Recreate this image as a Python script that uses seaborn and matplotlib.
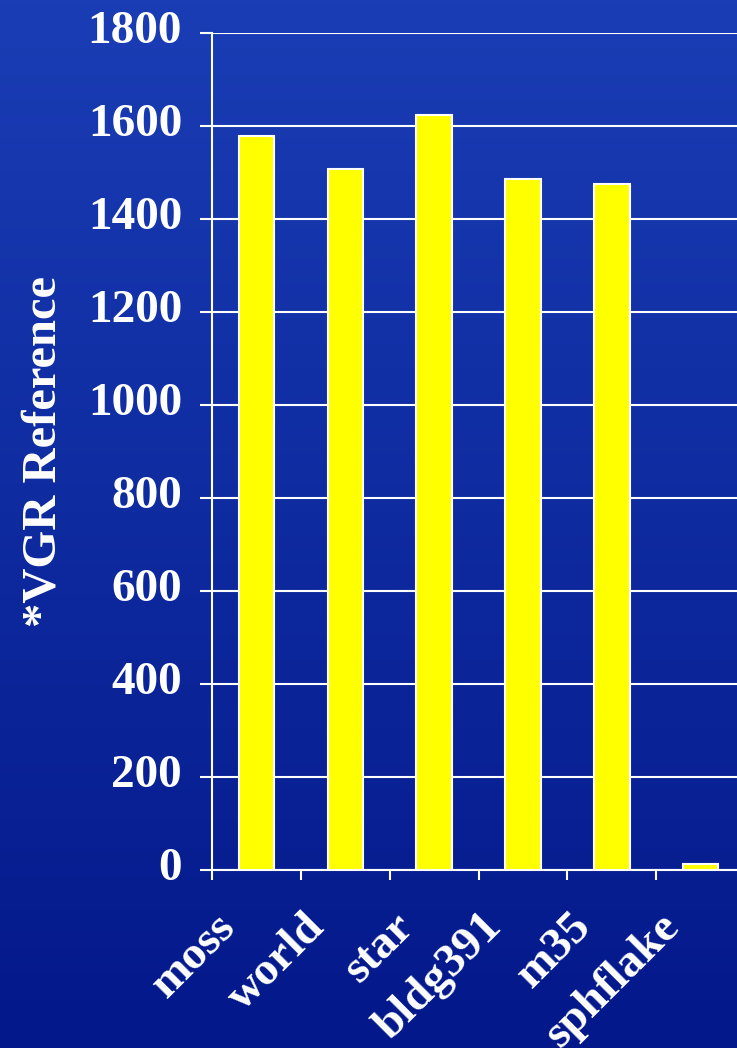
import numpy as np
import matplotlib
matplotlib.use('Agg')
import matplotlib.pyplot as plt
import seaborn as sns
from matplotlib.colors import LinearSegmentedColormap
from matplotlib.transforms import ScaledTranslation

# data
benchmarks = ['moss', 'world', 'star', 'bldg391', 'm35', 'sphflake']
vgr_values = [1578, 1508, 1624, 1485, 1475, 13]
y_ticks = [0, 200, 400, 600, 800, 1000, 1200, 1400, 1600, 1800]

sns.set_theme(style='white')
plt.rcParams['font.family'] = ['Liberation Serif', 'DejaVu Serif']
plt.rcParams['font.weight'] = 'bold'

fig = plt.figure(figsize=(7.37, 10.48), dpi=100)

# blue gradient background
bg = fig.add_axes([0, 0, 1, 1], zorder=-1)
grad = np.linspace(0, 1, 256).reshape(-1, 1)
cmap = LinearSegmentedColormap.from_list('bg', ['#1a3db5', '#03188a'])
bg.imshow(grad, aspect='auto', cmap=cmap, extent=[0, 1, 0, 1])
bg.axis('off')

ax = fig.add_axes([0.2877, 0.1698, 0.7232, 0.7987])
ax.set_facecolor('none')

sns.barplot(x=benchmarks, y=vgr_values, color='#ffff00', edgecolor='white',
            linewidth=1.5, width=0.4, saturation=1, ax=ax, zorder=3)

ax.set_ylim(0, 1800)
ax.set_xlim(-0.5, len(benchmarks) - 0.5)
ax.set_yticks(y_ticks)
ax.yaxis.grid(True, color='white', linewidth=1.5, zorder=0)
ax.set_axisbelow(True)

for s in ['top', 'right']:
    ax.spines[s].set_visible(False)
for s in ['left', 'bottom']:
    ax.spines[s].set_color('white')
    ax.spines[s].set_linewidth(1.5)

ax.tick_params(axis='y', direction='out', length=8.6, width=1.5, color='white',
               labelcolor='white', labelsize=34, pad=13, left=True)
ax.tick_params(axis='x', which='major', length=0, labelcolor='white',
               labelsize=34, pad=22)
ax.set_xticks(np.arange(-0.5, len(benchmarks), 1), minor=True)
ax.tick_params(axis='x', which='minor', direction='out', length=7.5, width=1.5,
               color='white', bottom=True)

for lbl in ax.get_xticklabels():
    lbl.set_rotation(45)
    lbl.set_ha('right')
    lbl.set_va('center')
    lbl.set_rotation_mode('anchor')
    lbl.set_fontweight('bold')
    lbl.set_transform(lbl.get_transform() + ScaledTranslation(-0.27, -0.2, fig.dpi_scale_trans))
for lbl in ax.get_yticklabels():
    lbl.set_fontweight('bold')
    lbl.set_transform(lbl.get_transform() + ScaledTranslation(0, 0.06, fig.dpi_scale_trans))

ax.set_xlabel('')
ax.set_ylabel('*VGR Reference', color='white', fontsize=35, fontweight='bold')
ax.yaxis.set_label_coords(-0.275, 0.5)

fig.savefig('out.png', dpi=100)
